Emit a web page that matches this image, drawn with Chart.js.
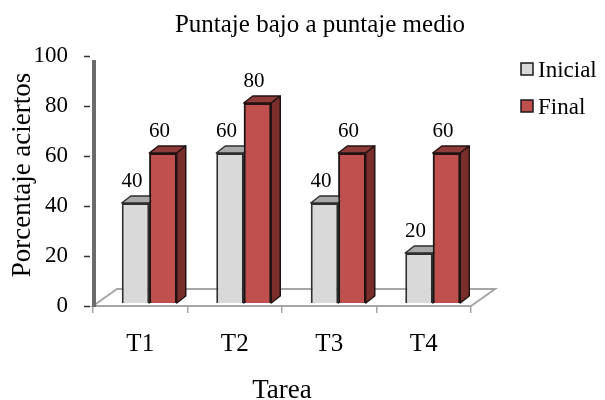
<!DOCTYPE html>
<html>
<head>
<meta charset="utf-8">
<script src="https://cdn.jsdelivr.net/npm/chart.js@4/dist/chart.umd.min.js"></script>
<style>
  html, body { margin: 0; padding: 0; background: #fff; }
  canvas { display: block; }
</style>
</head>
<body>
<canvas id="c" width="605" height="400"></canvas>
<script>
// Data
const categories = ['T1', 'T2', 'T3', 'T4'];
const inicial = [40, 60, 40, 20];
const finalScores = [60, 80, 60, 60];
const seriesNames = ['Inicial', 'Final'];
const yMin = 0, yMax = 100, yStep = 20;
const chartTitle = 'Puntaje bajo a puntaje medio';
const xTitle = 'Tarea';
const yTitle = 'Porcentaje aciertos';

// Styling
const SERIF = '"Liberation Serif", "Times New Roman", serif';
const faces = [
  { front: '#d9d9d9', top: '#a9a9a9', side: '#8c8c8c', edge: '#2e2e2e' },
  { front: '#c0504d', top: '#8f3b39', side: '#7a2e2c', edge: '#221212' }
];
const SHIFT_X = 9, SHIFT_Y = -3;   // bars sit slightly inside the floor
const DEPTH_X = 9, DEPTH_Y = 7;    // bar depth
const FLOOR_X = 24, FLOOR_Y = 17;  // floor depth

function poly(ctx, pts, fill, stroke) {
  ctx.beginPath();
  ctx.moveTo(pts[0][0], pts[0][1]);
  for (let i = 1; i < pts.length; i++) ctx.lineTo(pts[i][0], pts[i][1]);
  ctx.closePath();
  ctx.fillStyle = fill;
  ctx.fill();
  ctx.lineWidth = 1.5;
  ctx.lineJoin = 'round';
  ctx.strokeStyle = stroke;
  ctx.stroke();
}

const depth3d = {
  id: 'depth3d',
  beforeDatasetsDraw(chart) {
    const { ctx, chartArea: a } = chart;
    ctx.save();
    // floor
    ctx.strokeStyle = '#a6a6a6';
    ctx.lineWidth = 2;
    ctx.beginPath();
    ctx.moveTo(a.left, a.bottom);
    ctx.lineTo(a.right, a.bottom);
    ctx.lineTo(a.right + FLOOR_X, a.bottom - FLOOR_Y);
    ctx.lineTo(a.left + FLOOR_X, a.bottom - FLOOR_Y);
    ctx.closePath();
    ctx.stroke();
    // value axis edge
    ctx.fillStyle = '#6b6b6b';
    ctx.fillRect(a.left - 1, a.top + 4, 4, a.bottom - a.top - 3);
    ctx.restore();

    ctx.save();
    ctx.translate(SHIFT_X, SHIFT_Y);
  },
  afterDatasetsDraw(chart) {
    const ctx = chart.ctx;
    const metas = [chart.getDatasetMeta(0), chart.getDatasetMeta(1)];
    const values = [inicial, finalScores];
    categories.forEach((_, i) => {
      metas.forEach((meta, k) => {
        const bar = meta.data[i];
        if (k > 0) bar.draw(ctx); // front face over the neighbour's top
        const { x, y, base, width } = bar.getProps(['x', 'y', 'base', 'width'], true);
        const l = x - width / 2, r = x + width / 2;
        const f = faces[k];
        poly(ctx, [[l, y], [l + DEPTH_X, y - DEPTH_Y], [r + DEPTH_X, y - DEPTH_Y], [r, y]], f.top, f.edge);
        poly(ctx, [[r, y], [r + DEPTH_X, y - DEPTH_Y], [r + DEPTH_X, base - DEPTH_Y], [r, base]], f.side, f.edge);
      });
    });
    // value labels
    ctx.fillStyle = '#000';
    ctx.font = '21px ' + SERIF;
    ctx.textAlign = 'center';
    ctx.textBaseline = 'alphabetic';
    metas.forEach((meta, k) => {
      meta.data.forEach((bar, i) => {
        const { x, y } = bar.getProps(['x', 'y'], true);
        ctx.fillText(String(values[k][i]), x - 3.5, y - 16.5);
      });
    });
    ctx.restore();
  },
  afterDraw(chart) {
    const { ctx, chartArea: a } = chart;
    const ys = chart.scales.y;
    ctx.save();
    // value axis tick marks
    ctx.strokeStyle = '#333';
    ctx.lineWidth = 1.5;
    ys.ticks.forEach(t => {
      const py = Math.round(ys.getPixelForValue(t.value)) + 0.5;
      ctx.beginPath();
      ctx.moveTo(a.left - 9, py);
      ctx.lineTo(a.left - 3, py);
      ctx.stroke();
    });
    ctx.fillStyle = '#000';
    ctx.textBaseline = 'alphabetic';
    // title
    ctx.font = '25px ' + SERIF;
    ctx.textAlign = 'center';
    ctx.fillText(chartTitle, 320, 32);
    // axis titles
    ctx.font = '27px ' + SERIF;
    ctx.fillText(xTitle, (a.left + a.right) / 2, 398);
    ctx.save();
    ctx.translate(30, 175);
    ctx.rotate(-Math.PI / 2);
    ctx.fillText(yTitle, 0, 0);
    ctx.restore();
    // legend
    ctx.font = '23px ' + SERIF;
    ctx.textAlign = 'left';
    seriesNames.forEach((name, k) => {
      const top = 63 + k * 37;
      ctx.fillStyle = faces[k].front;
      ctx.fillRect(521, top, 12, 12);
      ctx.strokeStyle = '#1a1a1a';
      ctx.lineWidth = 1.5;
      ctx.strokeRect(521, top, 12, 12);
      ctx.fillStyle = '#000';
      ctx.fillText(name, 538, top + 14);
    });
    ctx.restore();
  }
};

new Chart(document.getElementById('c'), {
  type: 'bar',
  data: {
    labels: categories,
    datasets: [
      {
        label: seriesNames[0], data: inicial,
        backgroundColor: faces[0].front, borderColor: faces[0].edge, borderWidth: 2,
        categoryPercentage: 0.582, barPercentage: 1, clip: false
      },
      {
        label: seriesNames[1], data: finalScores,
        backgroundColor: faces[1].front, borderColor: faces[1].edge, borderWidth: 2,
        categoryPercentage: 0.582, barPercentage: 1, clip: false
      }
    ]
  },
  options: {
    responsive: false,
    animation: false,
    devicePixelRatio: 1,
    layout: { padding: { top: 56, right: 134, left: 0, bottom: 0 } },
    plugins: {
      legend: { display: false },
      title: { display: false },
      tooltip: { enabled: false }
    },
    scales: {
      x: {
        grid: { display: true, drawOnChartArea: false, drawTicks: true, tickLength: 7, color: '#a6a6a6', lineWidth: 1.5, offset: true },
        border: { display: false },
        ticks: { font: { family: SERIF, size: 25 }, color: '#000', padding: 16 },
        afterFit(s) { s.height = 94; }
      },
      y: {
        min: yMin, max: yMax,
        ticks: { stepSize: yStep, font: { family: SERIF, size: 23 }, color: '#000', padding: 25 },
        grid: { display: false, drawTicks: false },
        border: { display: false },
        afterFit(s) { s.width = 93; }
      }
    }
  },
  plugins: [depth3d]
});
</script>
</body>
</html>
